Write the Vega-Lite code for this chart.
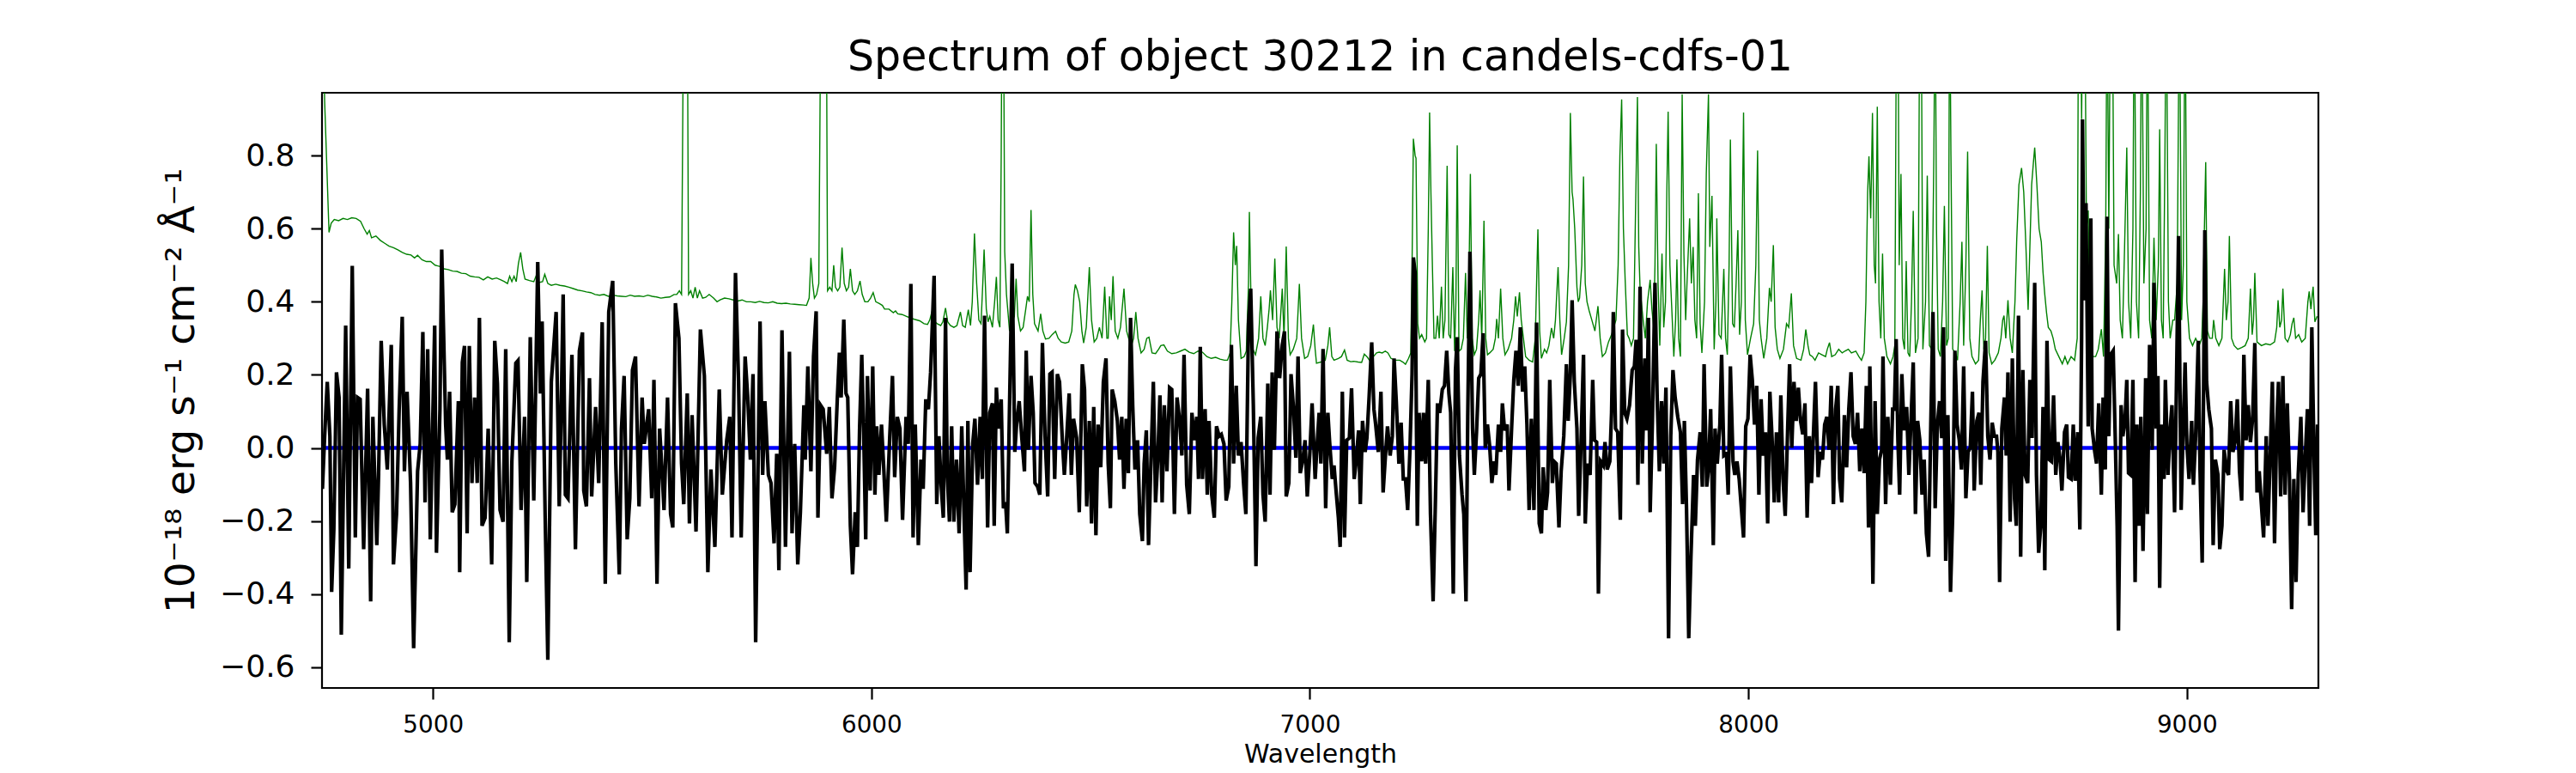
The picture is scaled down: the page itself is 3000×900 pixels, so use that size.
{
  "$schema": "https://vega.github.io/schema/vega-lite/v6.json",
  "width": 2325,
  "height": 693,
  "autosize": {"type": "none"},
  "padding": {"left": 375, "top": 108, "right": 300, "bottom": 99},
  "background": "white",
  "title": {
    "text": "Spectrum of object 30212 in candels-cdfs-01",
    "font": "DejaVu Sans",
    "fontSize": 49,
    "fontWeight": "normal",
    "color": "black",
    "baseline": "alphabetic",
    "anchor": "middle",
    "offset": 25,
    "dy": 48
  },
  "config": {
    "font": "DejaVu Sans",
    "view": {"stroke": "black", "strokeWidth": 2.2}
  },
  "datasets": {
    "err": [
      {"w":4748,"f":1.25},{"w":4753,"f":0.95},{"w":4763,"f":0.59},{"w":4768,"f":0.615},{"w":4775,"f":0.625},{"w":4785,"f":0.622},{"w":4795,"f":0.628},{"w":4805,"f":0.625},{"w":4815,"f":0.63},{"w":4825,"f":0.628},{"w":4835,"f":0.62},{"w":4843,"f":0.6},{"w":4850,"f":0.585},{"w":4855,"f":0.595},{"w":4860,"f":0.575},{"w":4870,"f":0.58},{"w":4880,"f":0.568},{"w":4890,"f":0.56},{"w":4900,"f":0.552},{"w":4910,"f":0.548},{"w":4920,"f":0.542},{"w":4930,"f":0.535},{"w":4940,"f":0.53},{"w":4950,"f":0.528},{"w":4958,"f":0.52},{"w":4965,"f":0.527},{"w":4975,"f":0.515},{"w":4985,"f":0.51},{"w":4995,"f":0.51},{"w":5005,"f":0.5},{"w":5015,"f":0.497},{"w":5025,"f":0.49},{"w":5035,"f":0.488},{"w":5045,"f":0.484},{"w":5055,"f":0.483},{"w":5065,"f":0.478},{"w":5075,"f":0.477},{"w":5085,"f":0.47},{"w":5095,"f":0.468},{"w":5105,"f":0.467},{"w":5115,"f":0.46},{"w":5125,"f":0.468},{"w":5135,"f":0.462},{"w":5145,"f":0.465},{"w":5155,"f":0.46},{"w":5163,"f":0.455},{"w":5170,"f":0.45},{"w":5175,"f":0.47},{"w":5180,"f":0.455},{"w":5185,"f":0.47},{"w":5190,"f":0.455},{"w":5195,"f":0.505},{"w":5200,"f":0.535},{"w":5205,"f":0.49},{"w":5210,"f":0.462},{"w":5220,"f":0.458},{"w":5230,"f":0.455},{"w":5235,"f":0.47},{"w":5240,"f":0.452},{"w":5250,"f":0.455},{"w":5255,"f":0.475},{"w":5262,"f":0.45},{"w":5270,"f":0.445},{"w":5280,"f":0.448},{"w":5290,"f":0.445},{"w":5300,"f":0.443},{"w":5310,"f":0.44},{"w":5320,"f":0.436},{"w":5330,"f":0.432},{"w":5340,"f":0.43},{"w":5350,"f":0.427},{"w":5360,"f":0.425},{"w":5370,"f":0.42},{"w":5380,"f":0.418},{"w":5390,"f":0.42},{"w":5400,"f":0.415},{"w":5410,"f":0.418},{"w":5420,"f":0.416},{"w":5430,"f":0.415},{"w":5440,"f":0.414},{"w":5450,"f":0.418},{"w":5460,"f":0.415},{"w":5470,"f":0.416},{"w":5480,"f":0.414},{"w":5490,"f":0.418},{"w":5500,"f":0.415},{"w":5510,"f":0.413},{"w":5520,"f":0.41},{"w":5530,"f":0.412},{"w":5540,"f":0.413},{"w":5550,"f":0.42},{"w":5556,"f":0.42},{"w":5562,"f":0.43},{"w":5567,"f":0.42},{"w":5572,"f":1.3},{"w":5574,"f":1.3},{"w":5577,"f":1.3},{"w":5580,"f":1.3},{"w":5583,"f":0.42},{"w":5588,"f":0.43},{"w":5593,"f":0.41},{"w":5598,"f":0.44},{"w":5603,"f":0.41},{"w":5608,"f":0.43},{"w":5615,"f":0.41},{"w":5622,"f":0.412},{"w":5630,"f":0.42},{"w":5640,"f":0.41},{"w":5648,"f":0.4},{"w":5655,"f":0.405},{"w":5665,"f":0.41},{"w":5675,"f":0.408},{"w":5685,"f":0.405},{"w":5695,"f":0.402},{"w":5705,"f":0.405},{"w":5715,"f":0.4},{"w":5725,"f":0.4},{"w":5735,"f":0.398},{"w":5745,"f":0.401},{"w":5755,"f":0.398},{"w":5765,"f":0.397},{"w":5775,"f":0.4},{"w":5785,"f":0.396},{"w":5795,"f":0.395},{"w":5805,"f":0.396},{"w":5815,"f":0.394},{"w":5825,"f":0.393},{"w":5835,"f":0.392},{"w":5845,"f":0.391},{"w":5852,"f":0.39},{"w":5858,"f":0.41},{"w":5862,"f":0.52},{"w":5866,"f":0.45},{"w":5870,"f":0.41},{"w":5875,"f":0.42},{"w":5880,"f":0.45},{"w":5885,"f":1.3},{"w":5888,"f":1.3},{"w":5891,"f":1.1},{"w":5894,"f":1.3},{"w":5897,"f":1.3},{"w":5900,"f":0.43},{"w":5905,"f":0.44},{"w":5910,"f":0.43},{"w":5914,"f":0.5},{"w":5918,"f":0.44},{"w":5923,"f":0.43},{"w":5928,"f":0.44},{"w":5933,"f":0.548},{"w":5938,"f":0.45},{"w":5943,"f":0.43},{"w":5948,"f":0.44},{"w":5952,"f":0.49},{"w":5957,"f":0.43},{"w":5962,"f":0.42},{"w":5968,"f":0.43},{"w":5974,"f":0.457},{"w":5979,"f":0.42},{"w":5985,"f":0.4},{"w":5992,"f":0.4},{"w":5998,"f":0.41},{"w":6004,"f":0.425},{"w":6010,"f":0.4},{"w":6018,"f":0.395},{"w":6025,"f":0.39},{"w":6030,"f":0.38},{"w":6040,"f":0.38},{"w":6050,"f":0.37},{"w":6055,"f":0.375},{"w":6060,"f":0.367},{"w":6070,"f":0.365},{"w":6080,"f":0.36},{"w":6090,"f":0.355},{"w":6098,"f":0.352},{"w":6110,"f":0.348},{"w":6120,"f":0.34},{"w":6128,"f":0.338},{"w":6133,"f":0.35},{"w":6139,"f":0.378},{"w":6145,"f":0.345},{"w":6150,"f":0.34},{"w":6158,"f":0.335},{"w":6163,"f":0.345},{"w":6169,"f":0.383},{"w":6174,"f":0.345},{"w":6180,"f":0.335},{"w":6188,"f":0.33},{"w":6195,"f":0.335},{"w":6203,"f":0.372},{"w":6208,"f":0.335},{"w":6214,"f":0.33},{"w":6221,"f":0.378},{"w":6226,"f":0.335},{"w":6230,"f":0.4},{"w":6235,"f":0.587},{"w":6240,"f":0.45},{"w":6245,"f":0.35},{"w":6250,"f":0.34},{"w":6254,"f":0.45},{"w":6257,"f":0.543},{"w":6262,"f":0.38},{"w":6266,"f":0.345},{"w":6270,"f":0.36},{"w":6276,"f":0.33},{"w":6281,"f":0.4},{"w":6285,"f":0.468},{"w":6289,"f":0.35},{"w":6293,"f":0.33},{"w":6296,"f":0.8},{"w":6298,"f":1.3},{"w":6301,"f":1.3},{"w":6304,"f":0.537},{"w":6308,"f":0.42},{"w":6315,"f":0.32},{"w":6320,"f":0.34},{"w":6326,"f":0.36},{"w":6330,"f":0.463},{"w":6334,"f":0.36},{"w":6340,"f":0.32},{"w":6346,"f":0.33},{"w":6352,"f":0.38},{"w":6356,"f":0.415},{"w":6360,"f":0.4},{"w":6364,"f":0.651},{"w":6368,"f":0.42},{"w":6372,"f":0.34},{"w":6380,"f":0.32},{"w":6386,"f":0.367},{"w":6391,"f":0.32},{"w":6397,"f":0.298},{"w":6405,"f":0.3},{"w":6412,"f":0.31},{"w":6420,"f":0.319},{"w":6426,"f":0.3},{"w":6433,"f":0.29},{"w":6442,"f":0.287},{"w":6450,"f":0.29},{"w":6457,"f":0.32},{"w":6462,"f":0.42},{"w":6465,"f":0.447},{"w":6470,"f":0.43},{"w":6475,"f":0.4},{"w":6480,"f":0.32},{"w":6484,"f":0.287},{"w":6490,"f":0.33},{"w":6497,"f":0.495},{"w":6502,"f":0.35},{"w":6508,"f":0.29},{"w":6514,"f":0.3},{"w":6520,"f":0.33},{"w":6526,"f":0.3},{"w":6532,"f":0.441},{"w":6537,"f":0.3},{"w":6540,"f":0.3},{"w":6543,"f":0.415},{"w":6547,"f":0.35},{"w":6551,"f":0.47},{"w":6556,"f":0.32},{"w":6562,"f":0.3},{"w":6568,"f":0.33},{"w":6576,"f":0.436},{"w":6582,"f":0.32},{"w":6592,"f":0.277},{"w":6598,"f":0.3},{"w":6603,"f":0.372},{"w":6608,"f":0.3},{"w":6615,"f":0.26},{"w":6622,"f":0.27},{"w":6628,"f":0.3},{"w":6633,"f":0.303},{"w":6640,"f":0.26},{"w":6648,"f":0.258},{"w":6655,"f":0.27},{"w":6660,"f":0.28},{"w":6667,"f":0.282},{"w":6675,"f":0.265},{"w":6685,"f":0.258},{"w":6695,"f":0.26},{"w":6705,"f":0.265},{"w":6715,"f":0.27},{"w":6725,"f":0.262},{"w":6735,"f":0.258},{"w":6745,"f":0.265},{"w":6755,"f":0.262},{"w":6765,"f":0.25},{"w":6775,"f":0.245},{"w":6785,"f":0.248},{"w":6795,"f":0.243},{"w":6805,"f":0.24},{"w":6812,"f":0.24},{"w":6818,"f":0.26},{"w":6822,"f":0.4},{"w":6826,"f":0.59},{"w":6830,"f":0.5},{"w":6833,"f":0.553},{"w":6837,"f":0.35},{"w":6843,"f":0.245},{"w":6850,"f":0.25},{"w":6855,"f":0.265},{"w":6860,"f":0.45},{"w":6862,"f":0.646},{"w":6866,"f":0.38},{"w":6870,"f":0.27},{"w":6876,"f":0.255},{"w":6883,"f":0.3},{"w":6888,"f":0.415},{"w":6893,"f":0.3},{"w":6898,"f":0.28},{"w":6903,"f":0.33},{"w":6907,"f":0.38},{"w":6910,"f":0.431},{"w":6915,"f":0.35},{"w":6920,"f":0.518},{"w":6925,"f":0.33},{"w":6930,"f":0.3},{"w":6937,"f":0.436},{"w":6941,"f":0.3},{"w":6946,"f":0.551},{"w":6951,"f":0.3},{"w":6955,"f":0.255},{"w":6962,"f":0.27},{"w":6970,"f":0.3},{"w":6976,"f":0.449},{"w":6981,"f":0.3},{"w":6988,"f":0.245},{"w":6995,"f":0.25},{"w":7002,"f":0.28},{"w":7008,"f":0.338},{"w":7012,"f":0.27},{"w":7015,"f":0.232},{"w":7025,"f":0.235},{"w":7035,"f":0.24},{"w":7041,"f":0.28},{"w":7045,"f":0.33},{"w":7050,"f":0.25},{"w":7055,"f":0.24},{"w":7065,"f":0.245},{"w":7072,"f":0.25},{"w":7079,"f":0.268},{"w":7085,"f":0.24},{"w":7093,"f":0.236},{"w":7100,"f":0.237},{"w":7110,"f":0.235},{"w":7118,"f":0.234},{"w":7124,"f":0.257},{"w":7130,"f":0.25},{"w":7137,"f":0.238},{"w":7145,"f":0.25},{"w":7152,"f":0.26},{"w":7158,"f":0.262},{"w":7165,"f":0.26},{"w":7172,"f":0.265},{"w":7178,"f":0.26},{"w":7185,"f":0.245},{"w":7195,"f":0.24},{"w":7205,"f":0.24},{"w":7212,"f":0.235},{"w":7218,"f":0.229},{"w":7225,"f":0.245},{"w":7230,"f":0.26},{"w":7233,"f":0.5},{"w":7236,"f":0.846},{"w":7240,"f":0.8},{"w":7242,"f":0.793},{"w":7246,"f":0.34},{"w":7250,"f":0.3},{"w":7255,"f":0.31},{"w":7262,"f":0.29},{"w":7266,"f":0.3},{"w":7270,"f":0.6},{"w":7273,"f":0.918},{"w":7276,"f":0.7},{"w":7279,"f":0.52},{"w":7283,"f":0.3},{"w":7287,"f":0.3},{"w":7291,"f":0.362},{"w":7295,"f":0.3},{"w":7300,"f":0.441},{"w":7304,"f":0.3},{"w":7308,"f":0.35},{"w":7313,"f":0.772},{"w":7317,"f":0.31},{"w":7321,"f":0.3},{"w":7326,"f":0.495},{"w":7330,"f":0.265},{"w":7333,"f":0.4},{"w":7336,"f":0.828},{"w":7340,"f":0.265},{"w":7345,"f":0.27},{"w":7350,"f":0.3},{"w":7355,"f":0.479},{"w":7359,"f":0.3},{"w":7362,"f":0.4},{"w":7366,"f":0.75},{"w":7370,"f":0.3},{"w":7375,"f":0.255},{"w":7380,"f":0.27},{"w":7385,"f":0.35},{"w":7388,"f":0.431},{"w":7392,"f":0.3},{"w":7397,"f":0.622},{"w":7401,"f":0.3},{"w":7405,"f":0.255},{"w":7410,"f":0.26},{"w":7418,"f":0.27},{"w":7423,"f":0.3},{"w":7426,"f":0.353},{"w":7430,"f":0.3},{"w":7435,"f":0.436},{"w":7440,"f":0.3},{"w":7445,"f":0.255},{"w":7452,"f":0.27},{"w":7460,"f":0.3},{"w":7465,"f":0.35},{"w":7469,"f":0.415},{"w":7473,"f":0.36},{"w":7478,"f":0.426},{"w":7482,"f":0.35},{"w":7487,"f":0.3},{"w":7492,"f":0.25},{"w":7500,"f":0.24},{"w":7508,"f":0.235},{"w":7514,"f":0.3},{"w":7517,"f":0.45},{"w":7520,"f":0.598},{"w":7524,"f":0.32},{"w":7528,"f":0.245},{"w":7535,"f":0.27},{"w":7540,"f":0.26},{"w":7545,"f":0.28},{"w":7551,"f":0.328},{"w":7556,"f":0.3},{"w":7560,"f":0.35},{"w":7566,"f":0.495},{"w":7570,"f":0.35},{"w":7574,"f":0.255},{"w":7580,"f":0.3},{"w":7585,"f":0.345},{"w":7590,"f":0.5},{"w":7594,"f":0.917},{"w":7598,"f":0.7},{"w":7600,"f":0.681},{"w":7604,"f":0.6},{"w":7609,"f":0.44},{"w":7612,"f":0.4},{"w":7615,"f":0.41},{"w":7620,"f":0.5},{"w":7624,"f":0.743},{"w":7628,"f":0.45},{"w":7632,"f":0.4},{"w":7637,"f":0.375},{"w":7643,"f":0.35},{"w":7650,"f":0.32},{"w":7657,"f":0.388},{"w":7662,"f":0.3},{"w":7667,"f":0.25},{"w":7674,"f":0.26},{"w":7681,"f":0.29},{"w":7688,"f":0.31},{"w":7693,"f":0.33},{"w":7698,"f":0.35},{"w":7703,"f":0.5},{"w":7707,"f":0.8},{"w":7711,"f":0.954},{"w":7715,"f":0.6},{"w":7719,"f":0.46},{"w":7724,"f":0.31},{"w":7728,"f":0.3},{"w":7733,"f":0.28},{"w":7738,"f":0.3},{"w":7742,"f":0.6},{"w":7747,"f":0.96},{"w":7750,"f":0.55},{"w":7753,"f":0.435},{"w":7760,"f":0.35},{"w":7765,"f":0.3},{"w":7770,"f":0.4},{"w":7776,"f":0.46},{"w":7780,"f":0.38},{"w":7784,"f":0.33},{"w":7787,"f":0.5},{"w":7790,"f":0.832},{"w":7794,"f":0.45},{"w":7798,"f":0.28},{"w":7803,"f":0.532},{"w":7807,"f":0.33},{"w":7811,"f":0.4},{"w":7814,"f":0.7},{"w":7817,"f":0.92},{"w":7821,"f":0.5},{"w":7825,"f":0.39},{"w":7830,"f":0.25},{"w":7834,"f":0.35},{"w":7837,"f":0.516},{"w":7841,"f":0.3},{"w":7845,"f":0.25},{"w":7849,"f":0.968},{"w":7853,"f":0.53},{"w":7857,"f":0.35},{"w":7860,"f":0.45},{"w":7866,"f":0.628},{"w":7870,"f":0.45},{"w":7874,"f":0.55},{"w":7878,"f":0.35},{"w":7882,"f":0.3},{"w":7886,"f":0.697},{"w":7890,"f":0.34},{"w":7894,"f":0.26},{"w":7900,"f":0.4},{"w":7904,"f":0.75},{"w":7909,"f":0.968},{"w":7912,"f":0.55},{"w":7917,"f":0.69},{"w":7922,"f":0.27},{"w":7926,"f":0.4},{"w":7928,"f":0.628},{"w":7933,"f":0.31},{"w":7938,"f":0.3},{"w":7944,"f":0.49},{"w":7948,"f":0.3},{"w":7952,"f":0.255},{"w":7956,"f":0.5},{"w":7959,"f":0.844},{"w":7964,"f":0.34},{"w":7968,"f":0.33},{"w":7972,"f":0.45},{"w":7976,"f":0.596},{"w":7980,"f":0.31},{"w":7984,"f":0.4},{"w":7989,"f":0.918},{"w":7993,"f":0.35},{"w":7998,"f":0.255},{"w":8005,"f":0.3},{"w":8012,"f":0.34},{"w":8017,"f":0.5},{"w":8021,"f":0.814},{"w":8025,"f":0.35},{"w":8029,"f":0.3},{"w":8035,"f":0.245},{"w":8042,"f":0.3},{"w":8048,"f":0.438},{"w":8052,"f":0.4},{"w":8057,"f":0.555},{"w":8061,"f":0.33},{"w":8066,"f":0.27},{"w":8072,"f":0.245},{"w":8080,"f":0.27},{"w":8087,"f":0.34},{"w":8092,"f":0.33},{"w":8098,"f":0.423},{"w":8103,"f":0.28},{"w":8110,"f":0.245},{"w":8120,"f":0.24},{"w":8126,"f":0.27},{"w":8131,"f":0.324},{"w":8136,"f":0.28},{"w":8140,"f":0.255},{"w":8146,"f":0.25},{"w":8152,"f":0.24},{"w":8160,"f":0.26},{"w":8168,"f":0.255},{"w":8176,"f":0.25},{"w":8180,"f":0.27},{"w":8185,"f":0.288},{"w":8190,"f":0.25},{"w":8198,"f":0.255},{"w":8206,"f":0.27},{"w":8214,"f":0.26},{"w":8220,"f":0.265},{"w":8228,"f":0.27},{"w":8235,"f":0.26},{"w":8245,"f":0.265},{"w":8252,"f":0.25},{"w":8258,"f":0.24},{"w":8264,"f":0.26},{"w":8268,"f":0.4},{"w":8272,"f":0.7},{"w":8275,"f":0.798},{"w":8279,"f":0.628},{"w":8283,"f":0.917},{"w":8287,"f":0.5},{"w":8290,"f":0.45},{"w":8294,"f":0.934},{"w":8298,"f":0.4},{"w":8302,"f":0.3},{"w":8306,"f":0.532},{"w":8310,"f":0.3},{"w":8316,"f":0.25},{"w":8324,"f":0.23},{"w":8330,"f":0.25},{"w":8334,"f":0.28},{"w":8338,"f":1.3},{"w":8341,"f":1.3},{"w":8344,"f":0.5},{"w":8348,"f":0.75},{"w":8352,"f":0.3},{"w":8356,"f":0.27},{"w":8360,"f":0.511},{"w":8364,"f":0.26},{"w":8368,"f":0.25},{"w":8372,"f":0.4},{"w":8376,"f":0.649},{"w":8381,"f":0.26},{"w":8387,"f":0.3},{"w":8391,"f":1.3},{"w":8394,"f":1.3},{"w":8398,"f":0.27},{"w":8404,"f":0.4},{"w":8408,"f":0.745},{"w":8413,"f":0.28},{"w":8418,"f":0.27},{"w":8423,"f":0.8},{"w":8426,"f":1.3},{"w":8429,"f":0.6},{"w":8433,"f":0.27},{"w":8438,"f":0.25},{"w":8443,"f":0.4},{"w":8447,"f":0.662},{"w":8452,"f":0.28},{"w":8456,"f":0.3},{"w":8459,"f":1.3},{"w":8462,"f":0.8},{"w":8466,"f":0.27},{"w":8472,"f":0.26},{"w":8477,"f":0.24},{"w":8483,"f":0.4},{"w":8487,"f":0.564},{"w":8491,"f":0.28},{"w":8496,"f":0.5},{"w":8500,"f":0.811},{"w":8505,"f":0.3},{"w":8510,"f":0.25},{"w":8518,"f":0.23},{"w":8525,"f":0.24},{"w":8529,"f":0.35},{"w":8533,"f":0.431},{"w":8537,"f":0.27},{"w":8541,"f":0.3},{"w":8545,"f":0.553},{"w":8549,"f":0.26},{"w":8555,"f":0.23},{"w":8562,"f":0.24},{"w":8570,"f":0.26},{"w":8576,"f":0.3},{"w":8580,"f":0.35},{"w":8583,"f":0.362},{"w":8587,"f":0.3},{"w":8592,"f":0.404},{"w":8597,"f":0.3},{"w":8602,"f":0.26},{"w":8608,"f":0.4},{"w":8612,"f":0.57},{"w":8617,"f":0.72},{"w":8623,"f":0.766},{"w":8628,"f":0.7},{"w":8633,"f":0.55},{"w":8638,"f":0.378},{"w":8642,"f":0.55},{"w":8646,"f":0.72},{"w":8650,"f":0.78},{"w":8653,"f":0.822},{"w":8658,"f":0.72},{"w":8663,"f":0.6},{"w":8668,"f":0.564},{"w":8672,"f":0.48},{"w":8676,"f":0.42},{"w":8680,"f":0.37},{"w":8684,"f":0.33},{"w":8690,"f":0.32},{"w":8695,"f":0.3},{"w":8700,"f":0.27},{"w":8708,"f":0.25},{"w":8716,"f":0.23},{"w":8722,"f":0.25},{"w":8728,"f":0.23},{"w":8736,"f":0.25},{"w":8744,"f":0.24},{"w":8750,"f":0.3},{"w":8753,"f":1.3},{"w":8757,"f":1.3},{"w":8760,"f":0.9},{"w":8763,"f":1.3},{"w":8767,"f":1.3},{"w":8771,"f":0.6},{"w":8775,"f":0.65},{"w":8780,"f":0.24},{"w":8785,"f":0.25},{"w":8792,"f":0.25},{"w":8798,"f":0.27},{"w":8805,"f":0.325},{"w":8810,"f":0.25},{"w":8815,"f":0.6},{"w":8818,"f":1.3},{"w":8822,"f":0.6},{"w":8826,"f":1.3},{"w":8830,"f":1.3},{"w":8834,"f":0.5},{"w":8840,"f":0.45},{"w":8844,"f":0.585},{"w":8848,"f":0.35},{"w":8853,"f":0.3},{"w":8858,"f":0.55},{"w":8863,"f":0.822},{"w":8867,"f":0.4},{"w":8872,"f":0.3},{"w":8877,"f":0.6},{"w":8880,"f":1.3},{"w":8885,"f":0.4},{"w":8890,"f":0.3},{"w":8894,"f":0.7},{"w":8897,"f":1.3},{"w":8902,"f":0.45},{"w":8907,"f":0.6},{"w":8910,"f":1.3},{"w":8915,"f":0.35},{"w":8920,"f":0.3},{"w":8925,"f":0.575},{"w":8930,"f":0.35},{"w":8935,"f":0.5},{"w":8938,"f":0.872},{"w":8942,"f":0.35},{"w":8946,"f":0.3},{"w":8950,"f":0.8},{"w":8953,"f":1.3},{"w":8958,"f":0.4},{"w":8962,"f":0.3},{"w":8968,"f":0.35},{"w":8972,"f":0.35},{"w":8978,"f":0.45},{"w":8983,"f":1.3},{"w":8988,"f":0.35},{"w":8992,"f":0.5},{"w":8996,"f":1.3},{"w":9000,"f":0.4},{"w":9006,"f":0.3},{"w":9013,"f":0.28},{"w":9020,"f":0.3},{"w":9028,"f":0.28},{"w":9034,"f":0.3},{"w":9037,"f":0.4},{"w":9040,"f":0.6},{"w":9043,"f":0.782},{"w":9047,"f":0.32},{"w":9052,"f":0.3},{"w":9058,"f":0.3},{"w":9061,"f":0.35},{"w":9066,"f":0.3},{"w":9073,"f":0.28},{"w":9080,"f":0.3},{"w":9086,"f":0.49},{"w":9090,"f":0.35},{"w":9094,"f":0.4},{"w":9097,"f":0.58},{"w":9102,"f":0.3},{"w":9108,"f":0.28},{"w":9116,"f":0.27},{"w":9125,"f":0.275},{"w":9133,"f":0.28},{"w":9140,"f":0.3},{"w":9145,"f":0.436},{"w":9149,"f":0.31},{"w":9152,"f":0.35},{"w":9155,"f":0.479},{"w":9160,"f":0.29},{"w":9170,"f":0.28},{"w":9180,"f":0.285},{"w":9190,"f":0.282},{"w":9200,"f":0.29},{"w":9205,"f":0.33},{"w":9208,"f":0.404},{"w":9212,"f":0.33},{"w":9216,"f":0.35},{"w":9219,"f":0.436},{"w":9224,"f":0.3},{"w":9230,"f":0.29},{"w":9236,"f":0.31},{"w":9240,"f":0.34},{"w":9244,"f":0.356},{"w":9248,"f":0.3},{"w":9255,"f":0.31},{"w":9262,"f":0.29},{"w":9270,"f":0.3},{"w":9276,"f":0.4},{"w":9279,"f":0.428},{"w":9283,"f":0.38},{"w":9286,"f":0.42},{"w":9288,"f":0.441},{"w":9292,"f":0.345},{"w":9297,"f":0.36}
    ],
    "zero": [
      {"w":4748,"f":0},{"w":9272,"f":0}
    ],
    "flux": [
      {"w":4748,"f":-0.112},{"w":4753,"f":0.032},{"w":4759,"f":0.181},{"w":4765,"f":0.032},{"w":4769,"f":-0.394},{"w":4774,"f":-0.223},{"w":4780,"f":0.207},{"w":4786,"f":0.138},{"w":4791,"f":-0.511},{"w":4801,"f":0.335},{"w":4808,"f":-0.33},{"w":4816,"f":0.498},{"w":4823,"f":-0.245},{"w":4828,"f":0.138},{"w":4834,"f":0.133},{"w":4842,"f":-0.277},{"w":4851,"f":0.162},{"w":4858,"f":-0.42},{"w":4863,"f":0.085},{"w":4872,"f":-0.266},{"w":4876,"f":-0.074},{"w":4882,"f":0.293},{"w":4889,"f":0.064},{"w":4896,"f":-0.059},{"w":4905,"f":0.282},{"w":4910,"f":-0.319},{"w":4917,"f":-0.181},{"w":4923,"f":0.106},{"w":4930,"f":0.359},{"w":4935,"f":-0.064},{"w":4941,"f":0.154},{"w":4949,"f":-0.096},{"w":4956,"f":-0.548},{"w":4965,"f":-0.064},{"w":4971,"f":0.011},{"w":4977,"f":0.317},{"w":4982,"f":-0.149},{"w":4988,"f":0.27},{"w":4994,"f":-0.25},{"w":5004,"f":0.335},{"w":5008,"f":-0.287},{"w":5016,"f":0.106},{"w":5020,"f":0.543},{"w":5029,"f":0.064},{"w":5033,"f":-0.032},{"w":5038,"f":0.154},{"w":5044,"f":-0.176},{"w":5050,"f":-0.154},{"w":5058,"f":0.128},{"w":5061,"f":-0.34},{"w":5067,"f":0.234},{"w":5072,"f":0.279},{"w":5078,"f":-0.234},{"w":5083,"f":0.279},{"w":5089,"f":-0.096},{"w":5095,"f":0.138},{"w":5101,"f":-0.096},{"w":5106,"f":0.356},{"w":5112,"f":-0.213},{"w":5119,"f":-0.191},{"w":5126,"f":0.053},{"w":5134,"f":-0.319},{"w":5141,"f":0.293},{"w":5147,"f":0.176},{"w":5153,"f":-0.17},{"w":5160,"f":-0.202},{"w":5166,"f":0.27},{"w":5174,"f":-0.532},{"w":5180,"f":-0.037},{"w":5189,"f":0.232},{"w":5194,"f":0.239},{"w":5201,"f":-0.17},{"w":5209,"f":0.085},{"w":5214,"f":-0.367},{"w":5222,"f":0.303},{"w":5230,"f":-0.144},{"w":5239,"f":0.509},{"w":5245,"f":0.149},{"w":5249,"f":0.346},{"w":5256,"f":-0.191},{"w":5262,"f":-0.58},{"w":5270,"f":0.181},{"w":5281,"f":0.372},{"w":5288,"f":-0.16},{"w":5292,"f":0.074},{"w":5297,"f":0.42},{"w":5302,"f":-0.128},{"w":5308,"f":-0.138},{"w":5317,"f":0.255},{"w":5325,"f":-0.277},{"w":5334,"f":0.266},{"w":5341,"f":0.316},{"w":5344,"f":-0.117},{"w":5350,"f":-0.16},{"w":5357,"f":0.191},{"w":5362,"f":-0.133},{"w":5371,"f":0.112},{"w":5378,"f":-0.096},{"w":5386,"f":0.344},{"w":5393,"f":-0.372},{"w":5401,"f":0.372},{"w":5410,"f":0.457},{"w":5417,"f":-0.043},{"w":5425,"f":-0.346},{"w":5430,"f":0.053},{"w":5436,"f":0.197},{"w":5443,"f":-0.25},{"w":5449,"f":-0.138},{"w":5455,"f":0.213},{"w":5462,"f":0.25},{"w":5470,"f":-0.16},{"w":5477,"f":0.138},{"w":5482,"f":0.011},{"w":5492,"f":0.106},{"w":5499,"f":-0.138},{"w":5504,"f":0.186},{"w":5511,"f":-0.372},{"w":5517,"f":0.053},{"w":5523,"f":-0.074},{"w":5527,"f":-0.17},{"w":5535,"f":0.138},{"w":5542,"f":-0.181},{"w":5547,"f":-0.218},{"w":5553,"f":0.396},{"w":5561,"f":0.3},{"w":5567,"f":-0.043},{"w":5572,"f":-0.154},{"w":5580,"f":0.149},{"w":5585,"f":-0.207},{"w":5591,"f":0.09},{"w":5600,"f":-0.229},{"w":5610,"f":0.324},{"w":5619,"f":0.197},{"w":5627,"f":-0.34},{"w":5634,"f":-0.059},{"w":5643,"f":-0.271},{"w":5653,"f":0.16},{"w":5660,"f":-0.128},{"w":5670,"f":0.021},{"w":5677,"f":0.085},{"w":5682,"f":-0.245},{"w":5690,"f":0.479},{"w":5697,"f":0.181},{"w":5703,"f":-0.245},{"w":5712,"f":0.25},{"w":5718,"f":0.138},{"w":5724,"f":-0.032},{"w":5730,"f":0.202},{"w":5736,"f":-0.532},{"w":5746,"f":0.346},{"w":5752,"f":-0.074},{"w":5757,"f":0.128},{"w":5765,"f":-0.074},{"w":5771,"f":-0.096},{"w":5778,"f":-0.261},{"w":5784,"f":-0.016},{"w":5789,"f":-0.335},{"w":5796,"f":0.322},{"w":5804,"f":-0.271},{"w":5813,"f":0.263},{"w":5819,"f":-0.234},{"w":5825,"f":0.011},{"w":5832,"f":-0.319},{"w":5838,"f":-0.176},{"w":5846,"f":0.117},{"w":5849,"f":-0.032},{"w":5855,"f":0.223},{"w":5862,"f":-0.064},{"w":5868,"f":0.25},{"w":5874,"f":0.374},{"w":5878,"f":-0.191},{"w":5884,"f":0.117},{"w":5890,"f":0.106},{"w":5898,"f":-0.016},{"w":5904,"f":0.112},{"w":5910,"f":-0.138},
      {"w":5916,"f":-0.053},{"w":5922,"f":0.128},{"w":5927,"f":0.261},{"w":5931,"f":0.138},{"w":5937,"f":0.351},{"w":5942,"f":0.149},{"w":5946,"f":0.138},{"w":5952,"f":-0.213},{"w":5957,"f":-0.346},{"w":5963,"f":-0.176},{"w":5968,"f":-0.271},{"w":5973,"f":0.053},{"w":5978,"f":0.255},{"w":5983,"f":0},{"w":5987,"f":-0.25},{"w":5991,"f":0.197},{"w":5997,"f":-0.117},{"w":6003,"f":0.223},{"w":6008,"f":-0.128},{"w":6012,"f":0.059},{"w":6017,"f":-0.074},{"w":6023,"f":0.064},{"w":6028,"f":-0.053},{"w":6034,"f":-0.202},{"w":6042,"f":0.037},{"w":6048,"f":0.197},{"w":6053,"f":-0.08},{"w":6059,"f":0.085},{"w":6065,"f":0.053},{"w":6071,"f":-0.197},{"w":6079,"f":0.085},{"w":6084,"f":0.011},{"w":6090,"f":0.449},{"w":6095,"f":-0.245},{"w":6100,"f":0.064},{"w":6107,"f":-0.266},{"w":6113,"f":-0.032},{"w":6118,"f":-0.112},{"w":6124,"f":0.133},{"w":6130,"f":0.106},{"w":6135,"f":0.207},{"w":6143,"f":0.471},{"w":6149,"f":-0.154},{"w":6154,"f":0.032},{"w":6159,"f":-0.101},{"w":6164,"f":-0.191},{"w":6169,"f":0.356},{"w":6173,"f":-0.074},{"w":6178,"f":-0.202},{"w":6183,"f":0.059},{"w":6188,"f":-0.202},{"w":6194,"f":-0.032},{"w":6200,"f":-0.234},{"w":6206,"f":0.059},{"w":6212,"f":-0.213},{"w":6216,"f":-0.388},{"w":6220,"f":0.074},{"w":6225,"f":-0.34},{"w":6231,"f":0.011},{"w":6236,"f":0.08},{"w":6242,"f":-0.101},{"w":6248,"f":0.085},{"w":6253,"f":-0.085},{"w":6258,"f":0.362},{"w":6265,"f":-0.218},{"w":6270,"f":0.096},{"w":6276,"f":0.122},{"w":6280,"f":-0.213},{"w":6285,"f":0.165},{"w":6290,"f":0.053},{"w":6296,"f":0.133},{"w":6301,"f":-0.165},{"w":6306,"f":-0.149},{"w":6310,"f":-0.234},{"w":6315,"f":0.117},{"w":6321,"f":0.505},{"w":6327,"f":-0.011},{"w":6331,"f":0.064},{"w":6337,"f":0.128},{"w":6343,"f":0.027},{"w":6349,"f":-0.064},{"w":6353,"f":0.266},{"w":6358,"f":-0.005},{"w":6364,"f":0.197},{"w":6369,"f":0.096},{"w":6373,"f":-0.096},{"w":6379,"f":-0.106},{"w":6384,"f":-0.128},{"w":6390,"f":0.287},{"w":6396,"f":0.032},{"w":6402,"f":-0.133},{"w":6407,"f":0.202},{"w":6412,"f":0.207},{"w":6418,"f":-0.085},{"w":6424,"f":0.202},{"w":6429,"f":0.181},{"w":6435,"f":0.032},{"w":6440,"f":-0.074},{"w":6445,"f":0.021},{"w":6451,"f":0.149},{"w":6456,"f":-0.074},{"w":6461,"f":0.08},{"w":6468,"f":0.027},{"w":6474,"f":-0.176},{"w":6481,"f":0.229},{"w":6486,"f":0.16},{"w":6491,"f":-0.16},{"w":6497,"f":0.074},{"w":6502,"f":-0.207},{"w":6507,"f":0.112},{"w":6512,"f":-0.239},{"w":6517,"f":0.064},{"w":6523,"f":-0.053},{"w":6529,"f":0.181},{"w":6535,"f":0.245},{"w":6540,"f":-0.043},{"w":6545,"f":-0.165},{"w":6549,"f":0.16},{"w":6555,"f":0.128},{"w":6561,"f":0.074},{"w":6566,"f":-0.032},{"w":6571,"f":0.085},{"w":6576,"f":-0.112},{"w":6581,"f":0.08},{"w":6586,"f":-0.069},{"w":6591,"f":0.356},{"w":6596,"f":0.112},{"w":6601,"f":-0.059},{"w":6607,"f":0.021},{"w":6612,"f":-0.181},{"w":6618,"f":-0.255},{"w":6622,"f":-0.043},{"w":6627,"f":0.048},{"w":6632,"f":-0.266},{"w":6637,"f":-0.059},{"w":6643,"f":0.181},{"w":6648,"f":-0.149},{"w":6653,"f":-0.032},{"w":6658,"f":0.144},{"w":6663,"f":-0.149},{"w":6668,"f":0.117},{"w":6674,"f":-0.064},{"w":6680,"f":0.165},{"w":6685,"f":0.16},{"w":6691,"f":-0.181},{"w":6697,"f":0.138},{"w":6703,"f":0.074},{"w":6708,"f":-0.021},{"w":6713,"f":0.255},{"w":6719,"f":-0.101},{"w":6725,"f":-0.181},{"w":6731,"f":0.096},{"w":6736,"f":0.021},{"w":6742,"f":0.085},{"w":6746,"f":-0.085},{"w":6750,"f":0.277},{"w":6755,"f":-0.085},{"w":6761,"f":0.106},{"w":6766,"f":-0.128},{"w":6770,"f":0.074},{"w":6776,"f":-0.128},{"w":6782,"f":-0.191},{"w":6787,"f":0.059},{"w":6793,"f":0.032},{"w":6798,"f":0.037},{"w":6804,"f":0.011},{"w":6809,"f":-0.144},{"w":6815,"f":-0.106},{"w":6821,"f":0.282},{"w":6826,"f":-0.043},{"w":6832,"f":0.17},{"w":6837,"f":-0.021},{"w":6843,"f":0.016},{"w":6849,"f":-0.101},{"w":6854,"f":-0.181},{"w":6860,"f":0.34},{"w":6865,"f":0.436},{"w":6871,"f":0.117},{"w":6877,"f":-0.324},{"w":6882,"f":0.027},{"w":6888,"f":0.085},{"w":6893,"f":-0.128},{"w":6898,"f":-0.202},{"w":6904,"f":0.176},{"w":6909,"f":-0.128},{"w":6914,"f":0.207},{"w":6919,"f":-0.005},{"w":6925,"f":0.319},{"w":6931,"f":0.191},{"w":6937,"f":0.282},{"w":6942,"f":0.319},{"w":6946,"f":-0.133},{"w":6952,"f":-0.096},{"w":6957,"f":0.202},{"w":6963,"f":0.101},{"w":6968,"f":-0.027},{"w":6973,"f":0.25},{"w":6978,"f":-0.069},{"w":6984,"f":-0.032},{"w":6989,"f":0.021},{"w":6994,"f":-0.133},{"w":7000,"f":-0.011},{"w":7005,"f":0.122},
      {"w":7012,"f":-0.085},{"w":7015,"f":-0.021},{"w":7021,"f":0.096},{"w":7025,"f":-0.043},{"w":7030,"f":0.271},{"w":7036,"f":-0.165},{"w":7041,"f":0.096},{"w":7045,"f":0.016},{"w":7051,"f":-0.085},{"w":7055,"f":-0.048},{"w":7060,"f":-0.122},{"w":7065,"f":-0.191},{"w":7069,"f":-0.271},{"w":7074,"f":0.154},{"w":7079,"f":-0.245},{"w":7084,"f":0.021},{"w":7090,"f":0.027},{"w":7095,"f":0.163},{"w":7101,"f":-0.085},{"w":7105,"f":-0.043},{"w":7111,"f":0.048},{"w":7115,"f":-0.154},{"w":7120,"f":0.074},{"w":7126,"f":-0.011},{"w":7130,"f":0.027},{"w":7135,"f":0.138},{"w":7141,"f":0.289},{"w":7146,"f":0.106},{"w":7150,"f":0.064},{"w":7156,"f":-0.011},{"w":7162,"f":0.154},{"w":7167,"f":-0.122},{"w":7172,"f":-0.027},{"w":7177,"f":0.059},{"w":7183,"f":-0.021},{"w":7188,"f":0.032},{"w":7192,"f":0.245},{"w":7197,"f":0.128},{"w":7203,"f":-0.043},{"w":7208,"f":0.069},{"w":7213,"f":-0.085},{"w":7218,"f":-0.085},{"w":7223,"f":-0.17},{"w":7228,"f":-0.011},{"w":7233,"f":0.202},{"w":7236,"f":0.521},{"w":7240,"f":0.479},{"w":7245,"f":-0.213},{"w":7249,"f":0.096},{"w":7255,"f":-0.037},{"w":7259,"f":0.096},{"w":7264,"f":-0.043},{"w":7270,"f":0.186},{"w":7275,"f":-0.181},{"w":7281,"f":-0.42},{"w":7286,"f":-0.16},{"w":7291,"f":0.122},{"w":7296,"f":0.096},{"w":7302,"f":0.16},{"w":7307,"f":0.17},{"w":7312,"f":0.266},{"w":7317,"f":0.149},{"w":7321,"f":0.096},{"w":7327,"f":-0.399},{"w":7332,"f":0.213},{"w":7336,"f":0.303},{"w":7341,"f":-0.021},{"w":7347,"f":-0.128},{"w":7351,"f":-0.181},{"w":7356,"f":-0.42},{"w":7360,"f":0.085},{"w":7365,"f":0.537},{"w":7371,"f":0.053},{"w":7375,"f":-0.074},{"w":7380,"f":0.043},{"w":7385,"f":0.191},{"w":7390,"f":0.202},{"w":7395,"f":0.314},{"w":7400,"f":0},{"w":7405,"f":0.064},{"w":7410,"f":0.005},{"w":7415,"f":-0.096},{"w":7420,"f":-0.037},{"w":7424,"f":-0.074},{"w":7430,"f":0.064},{"w":7435,"f":-0.011},{"w":7439,"f":0.122},{"w":7444,"f":0.048},{"w":7450,"f":0.064},{"w":7454,"f":-0.117},{"w":7460,"f":0.053},{"w":7465,"f":0.186},{"w":7470,"f":0.266},{"w":7475,"f":0.17},{"w":7480,"f":0.33},{"w":7485,"f":0.154},{"w":7490,"f":0.223},{"w":7495,"f":0.064},{"w":7500,"f":-0.17},{"w":7505,"f":0.08},{"w":7511,"f":-0.17},{"w":7517,"f":0.343},{"w":7523,"f":-0.207},{"w":7528,"f":-0.234},{"w":7532,"f":-0.053},{"w":7538,"f":-0.17},{"w":7542,"f":-0.122},{"w":7547,"f":0.186},{"w":7553,"f":-0.096},{"w":7557,"f":-0.037},{"w":7562,"f":-0.043},{"w":7568,"f":-0.218},{"w":7573,"f":-0.064},{"w":7579,"f":0.032},{"w":7585,"f":0.229},{"w":7589,"f":0.074},{"w":7594,"f":0.202},{"w":7598,"f":0.404},{"w":7603,"f":0.181},{"w":7609,"f":0.053},{"w":7613,"f":-0.186},{"w":7618,"f":0},{"w":7624,"f":0.255},{"w":7628,"f":-0.207},{"w":7633,"f":-0.043},{"w":7639,"f":-0.074},{"w":7645,"f":0.186},{"w":7649,"f":0.021},{"w":7654,"f":0.016},{"w":7658,"f":-0.399},{"w":7663,"f":-0.037},{"w":7669,"f":-0.048},{"w":7673,"f":0.016},{"w":7678,"f":-0.059},{"w":7684,"f":-0.037},{"w":7688,"f":0.096},{"w":7692,"f":0.372},{"w":7697,"f":0.053},{"w":7702,"f":0.043},{"w":7708,"f":-0.197},{"w":7713,"f":0.324},{"w":7718,"f":0.096},{"w":7723,"f":0.08},{"w":7729,"f":0.117},{"w":7735,"f":0.213},{"w":7740,"f":0.223},{"w":7744,"f":0.296},{"w":7748,"f":-0.101},{"w":7753,"f":0.441},{"w":7758,"f":-0.043},{"w":7764,"f":0.245},{"w":7768,"f":0.048},{"w":7772,"f":0.356},{"w":7776,"f":-0.176},{"w":7781,"f":0.064},{"w":7787,"f":0.452},{"w":7792,"f":0.138},{"w":7797,"f":-0.064},{"w":7802,"f":0.128},{"w":7807,"f":-0.043},{"w":7812,"f":0.165},{"w":7818,"f":-0.521},{"w":7823,"f":0.032},{"w":7828,"f":0.213},{"w":7833,"f":0.138},{"w":7839,"f":0.085},{"w":7845,"f":0.043},{"w":7850,"f":-0.154},{"w":7854,"f":0.074},{"w":7859,"f":-0.17},{"w":7864,"f":-0.521},{"w":7869,"f":-0.298},{"w":7875,"f":-0.074},{"w":7879,"f":-0.213},{"w":7884,"f":-0.032},{"w":7890,"f":0.043},{"w":7895,"f":-0.106},{"w":7899,"f":0.229},{"w":7905,"f":-0.106},{"w":7909,"f":-0.059},{"w":7914,"f":0.106},{"w":7920,"f":-0.266},{"w":7924,"f":0.053},{"w":7929,"f":-0.043},{"w":7935,"f":0.064},{"w":7939,"f":0.255},{"w":7944,"f":-0.021},{"w":7950,"f":-0.016},{"w":7954,"f":-0.128},{"w":7959,"f":0.223},{"w":7965,"f":-0.037},{"w":7969,"f":-0.074},{"w":7974,"f":-0.037},{"w":7979,"f":-0.085},{"w":7984,"f":-0.165},{"w":7989,"f":-0.245},{"w":7994,"f":0.059},{"w":7999,"f":0.08},{"w":8004,"f":0.255},{"w":8009,"f":0.186},{"w":8014,"f":0.064},{"w":8019,"f":0.17},{"w":8024,"f":-0.128},{"w":8029,"f":0.133},{"w":8034,"f":-0.021},{"w":8039,"f":0.043},{"w":8044,"f":-0.207},{"w":8049,"f":0.154},{"w":8054,"f":0.027},{"w":8059,"f":-0.149},{"w":8064,"f":0.043},{"w":8069,"f":-0.149},{"w":8074,"f":0.144},{"w":8079,"f":-0.085},{"w":8084,"f":-0.186},{"w":8090,"f":0.069},{"w":8094,"f":0.229},{"w":8099,"f":0},{"w":8104,"f":0.181},{"w":8109,"f":0.074},{"w":8114,"f":0.165},{"w":8119,"f":0.074},{"w":8124,"f":0.037},{"w":8129,"f":0.122},{"w":8134,"f":-0.191},{"w":8139,"f":0.032},{"w":8144,"f":-0.096},
      {"w":8153,"f":0.181},{"w":8159,"f":-0.08},{"w":8164,"f":-0.011},{"w":8169,"f":-0.032},{"w":8174,"f":0.064},{"w":8179,"f":0.085},{"w":8184,"f":-0.005},{"w":8189,"f":0.17},{"w":8194,"f":-0.154},{"w":8199,"f":0.106},{"w":8204,"f":0.17},{"w":8208,"f":-0.085},{"w":8213,"f":-0.149},{"w":8219,"f":0.09},{"w":8224,"f":-0.053},{"w":8229,"f":0.106},{"w":8234,"f":0.207},{"w":8239,"f":0.032},{"w":8244,"f":0.011},{"w":8249,"f":0.096},{"w":8254,"f":-0.064},{"w":8259,"f":0.053},{"w":8264,"f":-0.069},{"w":8269,"f":0.17},{"w":8274,"f":-0.218},{"w":8277,"f":0.223},{"w":8281,"f":-0.074},{"w":8284,"f":-0.372},{"w":8289,"f":0.128},{"w":8294,"f":-0.181},{"w":8299,"f":-0.032},{"w":8304,"f":-0.005},{"w":8307,"f":0.25},{"w":8313,"f":-0.154},{"w":8318,"f":0.085},{"w":8324,"f":-0.101},{"w":8329,"f":0.106},{"w":8333,"f":0.106},{"w":8337,"f":0.298},{"w":8341,"f":0.021},{"w":8345,"f":-0.128},{"w":8350,"f":0.202},{"w":8355,"f":0.048},{"w":8361,"f":0.112},{"w":8366,"f":-0.074},{"w":8371,"f":0.08},{"w":8376,"f":0.234},{"w":8381,"f":-0.181},{"w":8386,"f":0.074},{"w":8391,"f":0.021},{"w":8396,"f":-0.128},{"w":8401,"f":-0.032},{"w":8406,"f":-0.234},{"w":8411,"f":-0.298},{"w":8416,"f":0.064},{"w":8421,"f":0.372},{"w":8426,"f":-0.165},{"w":8431,"f":0.064},{"w":8436,"f":0.128},{"w":8441,"f":0.027},{"w":8445,"f":0.33},{"w":8450,"f":-0.309},{"w":8455,"f":0.09},{"w":8461,"f":-0.394},{"w":8466,"f":-0.181},{"w":8471,"f":0.266},{"w":8476,"f":0.064},{"w":8481,"f":0.021},{"w":8486,"f":-0.059},{"w":8491,"f":0.223},{"w":8496,"f":-0.138},{"w":8501,"f":-0.011},{"w":8506,"f":0},{"w":8511,"f":0.154},{"w":8515,"f":-0.117},{"w":8521,"f":0.074},{"w":8526,"f":0.096},{"w":8530,"f":-0.101},{"w":8535,"f":0.181},{"w":8541,"f":0.293},{"w":8546,"f":0.032},{"w":8551,"f":-0.032},{"w":8556,"f":0.069},{"w":8561,"f":0.032},{"w":8566,"f":0.032},{"w":8569,"f":-0.011},{"w":8573,"f":-0.367},{"w":8578,"f":0.053},{"w":8584,"f":0.138},{"w":8588,"f":-0.021},{"w":8592,"f":0.207},{"w":8597,"f":-0.202},{"w":8602,"f":0.245},{"w":8607,"f":-0.138},{"w":8611,"f":-0.213},{"w":8616,"f":0.362},{"w":8621,"f":-0.298},{"w":8626,"f":0.213},{"w":8631,"f":-0.074},{"w":8637,"f":-0.096},{"w":8642,"f":0.186},{"w":8647,"f":0.027},{"w":8653,"f":0.452},{"w":8657,"f":-0.074},{"w":8662,"f":-0.287},{"w":8667,"f":-0.213},{"w":8672,"f":0.112},{"w":8676,"f":-0.335},{"w":8681,"f":0.293},{"w":8686,"f":-0.032},{"w":8691,"f":-0.037},{"w":8696,"f":0.144},{"w":8701,"f":-0.074},{"w":8706,"f":0.016},{"w":8711,"f":-0.032},{"w":8715,"f":-0.117},{"w":8721,"f":0.043},{"w":8726,"f":0.064},{"w":8730,"f":-0.08},{"w":8736,"f":-0.085},{"w":8741,"f":0.064},{"w":8745,"f":-0.09},{"w":8751,"f":0.043},{"w":8756,"f":-0.223},{"w":8760,"f":0.303},{"w":8762,"f":0.899},{"w":8766,"f":0.404},{"w":8770,"f":0.67},{"w":8775,"f":0.059},{"w":8781,"f":0.628},{"w":8784,"f":0.053},{"w":8790,"f":-0.011},{"w":8794,"f":-0.043},{"w":8799,"f":0.122},{"w":8805,"f":-0.128},{"w":8809,"f":0.138},{"w":8814,"f":-0.059},{"w":8818,"f":0.633},{"w":8822,"f":0.032},{"w":8826,"f":0.255},{"w":8832,"f":0.266},{"w":8837,"f":0.011},{"w":8841,"f":-0.213},{"w":8844,"f":-0.5},{"w":8850,"f":0.117},{"w":8854,"f":0.032},{"w":8859,"f":0.074},{"w":8863,"f":0.186},{"w":8867,"f":-0.069},{"w":8872,"f":-0.074},{"w":8877,"f":0.186},{"w":8882,"f":-0.367},{"w":8886,"f":0.064},{"w":8891,"f":-0.213},{"w":8895,"f":0.085},{"w":8900,"f":-0.282},{"w":8906,"f":0.191},{"w":8910,"f":-0.181},{"w":8915,"f":0.282},{"w":8921,"f":-0.005},{"w":8925,"f":0.452},{"w":8930,"f":0.053},{"w":8934,"f":0.197},{"w":8938,"f":-0.383},{"w":8943,"f":0.064},{"w":8948,"f":-0.085},{"w":8951,"f":0.186},{"w":8957,"f":-0.074},{"w":8962,"f":0.053},{"w":8966,"f":0.117},{"w":8972,"f":-0.176},{"w":8977,"f":0.234},{"w":8981,"f":0.58},{"w":8987,"f":-0.17},{"w":8990,"f":-0.021},{"w":8996,"f":0.234},{"w":9000,"f":0.011},{"w":9005,"f":-0.085},{"w":9011,"f":0.074},{"w":9015,"f":-0.101},{"w":9020,"f":0.032},{"w":9026,"f":0.293},{"w":9030,"f":-0.059},{"w":9035,"f":-0.314},{"w":9041,"f":0.596},{"w":9045,"f":0.181},{"w":9050,"f":0.106},{"w":9056,"f":0.053},{"w":9060,"f":-0.266},{"w":9065,"f":-0.032},{"w":9071,"f":-0.074},{"w":9075,"f":-0.277},{"w":9080,"f":-0.213},{"w":9085,"f":-0.005},{"w":9090,"f":-0.059},{"w":9095,"f":-0.074},{"w":9100,"f":0.128},{"w":9105,"f":-0.011},{"w":9110,"f":0.016},{"w":9115,"f":0.133},{"w":9120,"f":-0.064},{"w":9125,"f":-0.144},{"w":9130,"f":0.255},{"w":9135,"f":0.021},{"w":9140,"f":0.117},{"w":9145,"f":0.016},{"w":9150,"f":0.08},{"w":9155,"f":0.287},{"w":9160,"f":-0.122},{"w":9165,"f":-0.064},{"w":9170,"f":-0.154},{"w":9175,"f":-0.245},{"w":9181,"f":0.032},{"w":9185,"f":-0.213},{"w":9190,"f":-0.027},{"w":9195,"f":0.181},{"w":9200,"f":-0.261},{"w":9205,"f":0.064},{"w":9209,"f":0.181},{"w":9214,"f":-0.133},{"w":9219,"f":0.197},{"w":9224,"f":-0.128},{"w":9229,"f":0.122},{"w":9234,"f":-0.08},{"w":9239,"f":-0.441},{"w":9244,"f":-0.085},{"w":9249,"f":-0.367},{"w":9254,"f":-0.074},{"w":9260,"f":0.085},{"w":9265,"f":-0.176},{"w":9270,"f":-0.027},{"w":9275,"f":0.106},{"w":9280,"f":-0.213},{"w":9285,"f":0.33},{"w":9290,"f":-0.021},{"w":9294,"f":-0.239},{"w":9298,"f":0.064}
    ]
  },
  "encoding": {
    "x": {
      "field": "w",
      "type": "quantitative",
      "scale": {"domain": [4747, 9300], "nice": false, "zero": false},
      "axis": {
        "values": [5000, 6000, 7000, 8000, 9000],
        "format": "d",
        "grid": false,
        "domain": false,
        "ticks": true,
        "tickColor": "black",
        "tickSize": 13,
        "tickWidth": 2.2,
        "labelFontSize": 27.8,
        "labelColor": "black",
        "labelBaseline": "alphabetic",
        "labelPadding": 38,
        "labelFlush": false,
        "title": "Wavelength",
        "titleFontSize": 30,
        "titleFontWeight": "normal",
        "titleColor": "black",
        "titleBaseline": "alphabetic",
        "titleY": 86
      }
    },
    "y": {
      "field": "f",
      "type": "quantitative",
      "scale": {"domain": [-0.657, 0.972], "nice": false, "zero": false},
      "axis": {
        "values": [-0.6, -0.4, -0.2, 0, 0.2, 0.4, 0.6, 0.8],
        "format": ".1f",
        "grid": false,
        "domain": false,
        "tickColor": "black",
        "tickSize": 13,
        "tickWidth": 2.2,
        "labelFontSize": 36,
        "labelColor": "black",
        "labelPadding": 19,
        "labelFlush": false,
        "title": "10⁻¹⁸ erg s⁻¹ cm⁻² Å⁻¹",
        "titleFontSize": 47,
        "titleFontWeight": "normal",
        "titleColor": "black",
        "titleAngle": 270,
        "titleAlign": "center",
        "titleBaseline": "alphabetic",
        "titleX": -150,
        "titleY": 346.5
      }
    }
  },
  "layer": [
    {
      "data": {"name": "err"},
      "mark": {"type": "line", "color": "#008000", "strokeWidth": 1.4, "clip": true}
    },
    {
      "data": {"name": "zero"},
      "mark": {"type": "line", "color": "#0000ff", "strokeWidth": 4.5, "clip": true}
    },
    {
      "data": {"name": "flux"},
      "mark": {"type": "line", "color": "black", "strokeWidth": 4.2, "clip": true}
    }
  ]
}
